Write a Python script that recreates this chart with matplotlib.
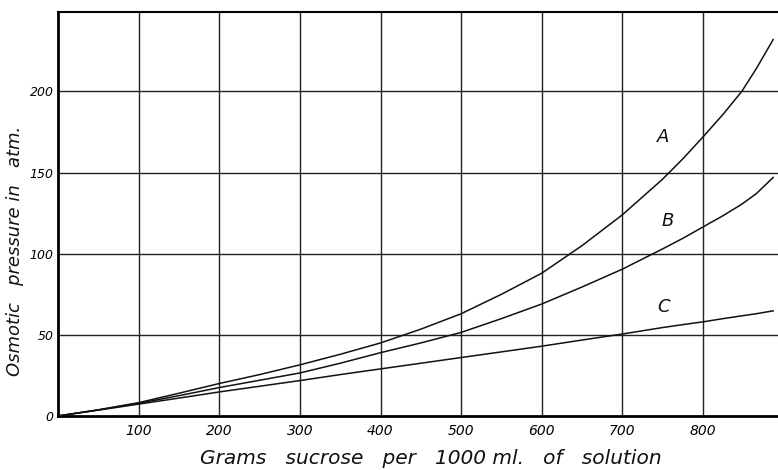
import numpy as np
import matplotlib
matplotlib.use("Agg")
import matplotlib.pyplot as plt

grams = [0, 50, 100, 150, 200, 250, 300, 350, 400, 450, 500, 550, 600, 650, 700, 750, 775, 800, 825, 848, 866, 887]
curveA = [0, 3.8, 8.2, 14, 20, 25.5, 31.5, 38, 45, 53.5, 63, 75, 88, 105, 124, 146, 158.5, 172, 186, 200, 214, 232]
curveB = [0, 3.7, 7.8, 12.5, 17.5, 22, 26.5, 32.5, 39, 45, 51.5, 60, 69, 79.5, 90.5, 103, 109.5, 116.5, 123.5, 130.5, 137, 147]
curveC = [0, 3.6, 7.3, 11, 14.8, 18.3, 21.8, 25.5, 29, 32.5, 36, 39.5, 43, 46.8, 50.5, 54.5, 56.3, 58, 60, 61.7, 63, 64.8]

xticks = [100, 200, 300, 400, 500, 600, 700, 800]
yticks = [0, 50, 100, 150, 200]
labels = ["A", "B", "C"]
label_pos = [(751, 172), (756, 120), (751, 67)]

plt.rcParams['font.family'] = ['DejaVu Sans']

fig = plt.figure(figsize=(7.78, 4.70), dpi=100)
ax = fig.add_axes([0.0746, 0.115, 0.9254, 0.8595])

for v in xticks:
    ax.axvline(v, color="#222222", lw=1.0, zorder=1)
for v in yticks[1:]:
    ax.axhline(v, color="#222222", lw=1.0, zorder=1)

for ys in (curveA, curveB, curveC):
    ax.plot(grams, ys, color="#111111", lw=1.1, zorder=3)

for lab, (lx, ly) in zip(labels, label_pos):
    ax.text(lx, ly, lab, fontsize=13, style="italic", ha="center", va="center", color="#111111")

ax.set_xlim(0, 893)
ax.set_ylim(0, 249)
ax.set_xticks(xticks)
ax.set_xticklabels([str(v) for v in xticks], fontsize=10, style="italic")
ax.set_yticks(yticks)
ax.set_yticklabels([str(v) for v in yticks], fontsize=9, style="italic")
ax.tick_params(axis="x", length=0, pad=6)
ax.tick_params(axis="y", length=0, pad=3)

ax.spines["right"].set_visible(False)
ax.spines["left"].set_linewidth(2.0)
ax.spines["bottom"].set_linewidth(2.0)
ax.spines["top"].set_linewidth(1.5)

fig.text(431 / 778, 1 - 458 / 470, "Grams   sucrose   per   1000 ml.   of   solution",
         fontsize=14.5, style="italic", ha="center", va="center", color="#111111")
fig.text(15 / 778, 1 - 251 / 470, "Osmotic   pressure in   atm.",
         fontsize=13, style="italic", ha="center", va="center", rotation=90, color="#111111")

fig.savefig("out.png", dpi=100)
